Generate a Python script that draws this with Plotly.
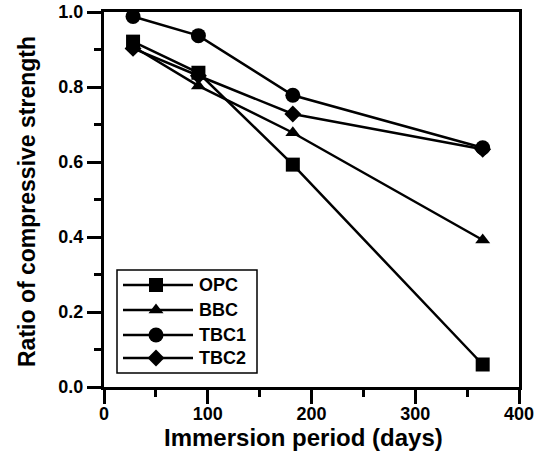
import plotly.graph_objects as go

days = [28, 91, 182, 365]
opc = [0.921, 0.838, 0.593, 0.060]
bbc = [0.908, 0.803, 0.678, 0.392]
tbc1 = [0.988, 0.937, 0.778, 0.638]
tbc2 = [0.903, 0.830, 0.728, 0.634]

names = ["OPC", "BBC", "TBC1", "TBC2"]
values = [opc, bbc, tbc1, tbc2]
symbols = ["square", "triangle-up", "circle", "diamond"]
sizes = [14, 13, 15, 13]

font_family = "Liberation Sans, Arial, sans-serif"

fig = go.Figure()
for name, vals, sym, sz in zip(names, values, symbols, sizes):
    fig.add_trace(go.Scatter(
        x=days, y=vals, name=name, mode="lines+markers",
        line=dict(color="black", width=2.5),
        marker=dict(symbol=sym, size=sz, color="black"),
        showlegend=False,
    ))

# custom legend drawn on an overlay axis measured in plot-area pixels
PW, PH = 415, 375
row_y = [102, 77, 52, 29]
for name, sym, sz, ry in zip(names, symbols, sizes, row_y):
    fig.add_trace(go.Scatter(
        x=[19, 89], y=[ry, ry], xaxis="x2", yaxis="y2",
        mode="lines", line=dict(color="black", width=2.5),
        showlegend=False, hoverinfo="skip",
    ))
    fig.add_trace(go.Scatter(
        x=[52], y=[ry], xaxis="x2", yaxis="y2",
        mode="markers", marker=dict(symbol=sym, size=sz, color="black"),
        showlegend=False, hoverinfo="skip",
    ))
    fig.add_annotation(
        x=93, y=ry, xref="x2", yref="y2", text=name, showarrow=False,
        xanchor="left", yanchor="middle",
        font=dict(family=font_family, size=18, color="black", weight="bold"),
    )
fig.add_shape(type="rect", xref="x2", yref="y2", x0=13, x1=153, y0=14, y1=117,
              line=dict(color="black", width=1.5), layer="below")

# axis titles
fig.add_annotation(
    x=(303 - 104) / PW, y=(387 - 437) / PH, xref="paper", yref="paper",
    text="Immersion period (days)", showarrow=False,
    xanchor="center", yanchor="middle",
    font=dict(family=font_family, size=24, color="black", weight="bold"),
)
fig.add_annotation(
    x=(27 - 104) / PW, y=(387 - 202) / PH, xref="paper", yref="paper",
    text="Ratio of compressive strength", showarrow=False, textangle=-90,
    xanchor="center", yanchor="middle",
    font=dict(family=font_family, size=23, color="black", weight="bold"),
)

fig.update_layout(
    width=547, height=452,
    margin=dict(l=104, r=28, t=12, b=65),
    plot_bgcolor="white", paper_bgcolor="white",
    showlegend=False,
    font=dict(family=font_family, color="black"),
    xaxis2=dict(overlaying="x", range=[0, PW], visible=False, domain=[0, 1]),
    yaxis2=dict(overlaying="y", range=[0, PH], visible=False, domain=[0, 1]),
)
fig.layout.xaxis.update(
    range=[0, 400], tickvals=[0, 100, 200, 300, 400],
    ticks="outside", ticklen=14, tickwidth=2.5, tickcolor="black",
    minor=dict(dtick=50, tick0=0, ticks="outside", ticklen=7, tickwidth=2.5, tickcolor="black"),
    showline=True, linewidth=3, linecolor="black", mirror=True,
    showgrid=False, zeroline=False, automargin=False,
    ticklabelstandoff=-6,
    tickfont=dict(family=font_family, size=18, color="black", weight="bold"),
)
fig.layout.yaxis.update(
    range=[0, 1.0], tickvals=[0, 0.2, 0.4, 0.6, 0.8, 1.0],
    ticktext=["0.0", "0.2", "0.4", "0.6", "0.8", "1.0"],
    ticks="outside", ticklen=14, tickwidth=2.5, tickcolor="black",
    minor=dict(dtick=0.1, tick0=0, ticks="outside", ticklen=7, tickwidth=2.5, tickcolor="black"),
    showline=True, linewidth=3, linecolor="black", mirror=True,
    showgrid=False, zeroline=False, automargin=False,
    tickfont=dict(family=font_family, size=18, color="black", weight="bold"),
)

fig.write_html("out.html")
